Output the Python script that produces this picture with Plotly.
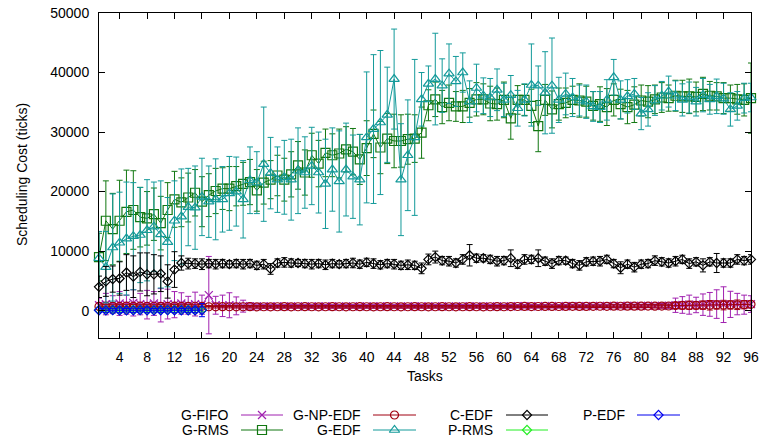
import plotly.graph_objects as go

# ---------------- data ----------------
tasks = list(range(1, 97))
x_tick_vals = [4, 8, 12, 16, 20, 24, 28, 32, 36, 40, 44, 48, 52, 56, 60, 64, 68, 72, 76, 80, 84, 88, 92, 96]
x_tick_text = [str(v) for v in x_tick_vals]
y_tick_vals = [0, 10000, 20000, 30000, 40000, 50000]
y_tick_text = ["0", "10000", "20000", "30000", "40000", "50000"]

g_rms = [9000, 15100, 13700, 15100, 16600, 16900, 15700, 15500, 16200, 14700, 16900, 18700, 18200, 19000, 19800, 18300,
         19400, 20100, 20500, 20500, 20900, 21300, 21600, 20200, 21500, 22000, 22700, 22000, 22900, 24400, 23200, 26100,
         24700, 26500, 26100, 26400, 27100, 26700, 25400, 27300, 29700, 27400, 28900, 28500, 28500, 28800, 28900, 29900,
         34500, 35500, 34200, 34900, 34300, 34300, 34900, 35500, 35500, 34800, 34700, 35400, 32300, 35400, 35400, 34400,
         31000, 35400, 33800, 34700, 34900, 35400, 35300, 35100, 34400, 34700, 34200, 35400, 34700, 34200, 34600, 35300,
         35100, 35500, 35800, 35700, 36100, 36000, 36000, 35900, 36400, 36100, 36000, 35700, 35700, 35500, 35400, 35700]
g_rms_err = [4000, 6700, 6000, 6800, 7000, 6600, 5000, 4500, 4400, 4500, 4600, 4700, 4100, 4100, 3900, 4200,
             3600, 3800, 3500, 3700, 3300, 3600, 3800, 3500, 3600, 3200, 3400, 3600, 3800, 4000, 3800, 3700,
             3900, 4000, 3600, 4100, 3800, 3900, 4200, 4600, 4000, 4400, 4200, 4500, 4400, 4200, 4000, 4300,
             2600, 2900, 2800, 3000, 2500, 2700, 2400, 2800, 2600, 2900, 2700, 3000, 3500, 2400, 2600, 2800,
             4300, 2600, 3100, 2700, 2500, 2300, 2800, 2600, 2400, 2900, 3100, 2700, 2500, 2800, 3000, 2600,
             2700, 2400, 2500, 2200, 2600, 2700, 2900, 2500, 2800, 2400, 2300, 2600, 2200, 2500, 2700, 5900]

g_edf = [8800, 7300, 10600, 11400, 12100, 12500, 12700, 13500, 14100, 12800, 11500, 15100, 15800, 17400, 17300, 19100,
         18300, 18700, 18700, 19700, 20000, 18700, 21900, 21500, 24600, 23100, 22000, 22400, 22000, 23500, 23200, 24300,
         23200, 21300, 23700, 21700, 23700, 22500, 22000, 29100, 30500, 31600, 32900, 38900, 22000, 26100, 29100, 35500,
         38100, 38900, 37800, 39800, 38500, 40000, 35100, 37400, 36100, 35800, 37100, 35400, 36200, 34000, 35400, 37900,
         37800, 36600, 37800, 35400, 36400, 35800, 35300, 35100, 34300, 34200, 35400, 39200, 35400, 36000, 36400, 33100,
         33800, 35300, 36100, 36800, 36100, 35400, 35800, 35100, 36200, 35500, 36000, 35600, 33800, 34400, 35700, 35800]
g_edf_err = [4500, 6000, 9000, 8500, 9500, 9000, 8000, 8500, 7500, 9000, 7500, 6700, 8000, 6500, 7000, 6500,
             6000, 6800, 5500, 6200, 5800, 6500, 5600, 5200, 9600, 6000, 5500, 6200, 6800, 7200, 6000, 6500,
             6800, 7500, 7000, 8500, 7800, 7000, 7600, 11000, 12500, 12100, 8000, 8400, 9400, 9300, 13100, 4500,
             3000, 7700, 4500, 5000, 4200, 3300, 3500, 4000, 3000, 3200, 3500, 2800, 3300, 3000, 2700, 6900,
             3300, 6900, 8000, 3800, 3500, 3200, 2600, 2800, 2500, 2600, 3400, 3000, 3200, 2800, 2600, 2700,
             2800, 2500, 2400, 2600, 2500, 2700, 2600, 2400, 2800, 2500, 2900, 2600, 2800, 2400, 2500, 2400]

c_edf = [4000, 4900, 5300, 5400, 6400, 5700, 6500, 6100, 6100, 6200, 4900, 6900, 8000, 7900, 7900, 7800,
         7900, 7800, 7900, 7800, 7900, 7800, 7900, 7600, 7800, 7000, 8000, 8100, 8000, 8000, 7900, 7800,
         7900, 7700, 7900, 7800, 7900, 8000, 7800, 8100, 7900, 7700, 7900, 7800, 7600, 7700, 7600, 7100,
         8600, 9000, 8400, 8300, 8000, 8600, 9300, 8800, 8800, 8600, 8300, 8400, 8800, 7800, 8600, 8600,
         8800, 8300, 7900, 8400, 8400, 7900, 7600, 8200, 8300, 8300, 8600, 7900, 7200, 7800, 7300, 7800,
         7900, 8400, 8200, 8000, 8300, 8600, 7900, 8200, 7600, 8200, 8000, 8000, 8000, 8600, 8400, 8600]
c_edf_err = [1800, 2500, 2200, 2800, 3000, 3500, 3200, 3600, 3300, 3000, 2800, 3000, 1200, 900, 800, 900,
             700, 800, 700, 600, 700, 800, 700, 700, 800, 900, 700, 800, 700, 600, 700, 800,
             700, 800, 700, 600, 700, 800, 700, 700, 800, 700, 700, 800, 700, 800, 700, 900,
             900, 1000, 700, 800, 700, 800, 1800, 700, 600, 700, 800, 700, 1400, 700, 800, 700,
             1400, 700, 800, 700, 600, 700, 800, 700, 700, 800, 700, 700, 1000, 700, 800, 700,
             700, 800, 700, 700, 800, 700, 800, 700, 1100, 700, 1600, 700, 700, 800, 700, 800]

g_np_edf = [700, 750, 720, 700, 760, 720, 740, 700, 730, 720, 700, 740, 720, 700, 730, 720,
            650, 640, 660, 650, 640, 650, 660, 640, 650, 630, 650, 660, 640, 650, 660, 650,
            640, 650, 660, 650, 640, 650, 660, 650, 640, 650, 660, 650, 640, 650, 660, 650,
            640, 650, 660, 650, 640, 650, 660, 650, 640, 650, 660, 650, 680, 690, 700, 680,
            690, 700, 710, 690, 700, 720, 710, 700, 720, 730, 720, 740, 730, 740, 750, 740,
            760, 750, 760, 780, 850, 870, 900, 880, 920, 900, 950, 930, 960, 980, 1000, 1050]
g_np_edf_err = [250, 300, 250, 300, 250, 300, 250, 300, 250, 300, 250, 300, 250, 300, 250, 300,
                200, 200, 200, 200, 200, 200, 200, 200, 200, 200, 200, 200, 200, 200, 200, 200,
                200, 200, 200, 200, 200, 200, 200, 200, 200, 200, 200, 200, 200, 200, 200, 200,
                200, 200, 200, 200, 200, 200, 200, 200, 200, 200, 200, 200, 200, 200, 200, 200,
                200, 200, 200, 200, 200, 200, 200, 200, 200, 200, 200, 250, 250, 250, 250, 250,
                250, 300, 300, 300, 500, 600, 700, 600, 700, 800, 700, 800, 700, 800, 700, 600]

g_fifo = [900, 1100, 1000, 1200, 1000, 1300, 1100, 1000, 1200, 900, 1100, 1000, 1200, 900, 1100, 1000,
          2600, 900, 800, 900, 800, 750, 700, 700, 720, 700, 710, 700, 720, 700, 710, 700,
          700, 720, 700, 710, 700, 720, 700, 710, 700, 720, 700, 710, 700, 720, 700, 710,
          700, 720, 700, 710, 700, 720, 700, 710, 700, 720, 700, 710, 720, 730, 740, 720,
          730, 740, 750, 730, 740, 760, 750, 740, 760, 770, 760, 780, 770, 780, 790, 780,
          800, 790, 800, 820, 900, 950, 1000, 950, 1000, 1050, 1100, 1000, 1050, 1100, 1000, 1100]
g_fifo_err = [1200, 1800, 1500, 2000, 1600, 2200, 1800, 2400, 2000, 2800, 2500, 2200, 1800, 1500, 2000, 1600,
              6500, 1500, 1800, 2100, 1500, 1000, 600, 400, 350, 300, 300, 300, 300, 300, 300, 300,
              300, 300, 300, 300, 300, 300, 300, 300, 300, 300, 300, 300, 300, 300, 300, 300,
              300, 300, 300, 300, 300, 300, 300, 300, 300, 300, 300, 300, 300, 300, 300, 300,
              300, 300, 300, 300, 300, 300, 300, 300, 300, 300, 300, 300, 300, 300, 300, 300,
              300, 300, 400, 500, 1200, 1400, 1600, 1300, 1800, 2000, 2400, 3000, 2200, 1800, 1600, 1400]

p_tasks = list(range(1, 17))
p_rms = [120, 100, 110, 90, 100, 120, 110, 100, 90, 110, 100, 120, 110, 100, 90, 110]
p_rms_err = [300, 300, 350, 300, 300, 350, 300, 300, 350, 300, 300, 350, 300, 300, 350, 300]
p_edf = [60, 50, 70, 50, 60, 50, 70, 60, 50, 60, 70, 50, 60, 50, 60, 80]
p_edf_err = [300, 350, 300, 400, 300, 350, 300, 400, 300, 350, 300, 400, 300, 350, 400, 1100]

# ---------------- styles ----------------
W, H = 759, 439
FONT = "Liberation Sans, Arial, sans-serif"
series = [
    # name, x, y, err, color, symbol, size
    ("G-FIFO", tasks, g_fifo, g_fifo_err, "#a020b0", "x-thin-open", 8),
    ("G-RMS", tasks, g_rms, g_rms_err, "#117711", "square-open", 9),
    ("G-NP-EDF", tasks, g_np_edf, g_np_edf_err, "#a00010", "circle-open", 8),
    ("G-EDF", tasks, g_edf, g_edf_err, "#139a9a", "triangle-up-open", 9),
    ("C-EDF", tasks, c_edf, c_edf_err, "#000000", "diamond-open", 7),
    ("P-RMS", p_tasks, p_rms, p_rms_err, "#22ee22", "diamond-open", 7),
    ("P-EDF", p_tasks, p_edf, p_edf_err, "#0000ee", "diamond-open", 7),
]

fig = go.Figure()
for name, xs, ys, es, col, sym, sz in series:
    fig.add_trace(go.Scatter(
        x=xs, y=ys, mode="lines+markers", name=name, showlegend=False,
        line=dict(color=col, width=1),
        marker=dict(symbol=sym, size=sz, color=col, line=dict(color=col, width=1.2)),
        error_y=dict(type="data", array=es, visible=True, color=col, thickness=1, width=3),
        cliponaxis=False,
    ))

# ---------------- manual gnuplot-style key ----------------
key_cols = [(231, 241, 283), (363, 373, 416), (495, 506, 548), (627, 637, 680)]
key_rows = [415, 430]
key_pos = [(0, 0), (0, 1), (1, 0), (1, 1), (2, 0), (2, 1), (3, 0)]
annotations = []
for (name, xs, ys, es, col, sym, sz), (ci, ri) in zip(series, key_pos):
    tx, l0, l1 = key_cols[ci]
    py = key_rows[ri]
    fig.add_trace(go.Scatter(x=[l0, l1], y=[py, py], mode="lines", xaxis="x2", yaxis="y2",
                             line=dict(color=col, width=1), showlegend=False, hoverinfo="skip"))
    fig.add_trace(go.Scatter(x=[(l0 + l1) / 2], y=[py], mode="markers", xaxis="x2", yaxis="y2",
                             marker=dict(symbol=sym, size=sz, color=col, line=dict(color=col, width=1.2)),
                             showlegend=False, hoverinfo="skip"))
    annotations.append(dict(text=name, x=tx / W, y=1 - py / H, xref="paper", yref="paper",
                            xanchor="right", yanchor="middle", showarrow=False,
                            font=dict(family=FONT, size=14, color="black")))

annotations.append(dict(text="Tasks", x=425 / W, y=1 - 376 / H, xref="paper", yref="paper",
                        xanchor="center", yanchor="middle", showarrow=False,
                        font=dict(family=FONT, size=14, color="black")))
annotations.append(dict(text="Scheduling Cost (ticks)", x=22 / W, y=1 - 175 / H, xref="paper", yref="paper",
                        xanchor="center", yanchor="middle", showarrow=False, textangle=-90,
                        font=dict(family=FONT, size=14, color="black")))

axis_common = dict(showline=True, linecolor="black", linewidth=1, mirror="ticks", ticks="inside",
                   ticklen=6, tickcolor="black", showgrid=False, zeroline=False,
                   tickfont=dict(family=FONT, size=14, color="black"), automargin=False)

fig.update_layout(
    width=W, height=H, margin=dict(l=0, r=0, t=0, b=0),
    paper_bgcolor="white", plot_bgcolor="rgba(0,0,0,0)", showlegend=False,
    xaxis=dict(domain=[99 / W, 751 / W], range=[1, 96], tickmode="array",
               tickvals=x_tick_vals, ticktext=x_tick_text, ticklabelstandoff=6, **axis_common),
    yaxis=dict(domain=[1 - 338 / H, 1 - 13 / H], range=[-4600, 50000], tickmode="array",
               tickvals=y_tick_vals, ticktext=y_tick_text, ticklabelstandoff=6, **axis_common),
    xaxis2=dict(domain=[0, 1], range=[0, W], visible=False, anchor="y2", fixedrange=True),
    yaxis2=dict(domain=[0, 1], range=[H, 0], visible=False, anchor="x2", fixedrange=True),
    annotations=annotations,
    font=dict(family=FONT, size=14, color="black"),
)

fig.write_html("out.html")
